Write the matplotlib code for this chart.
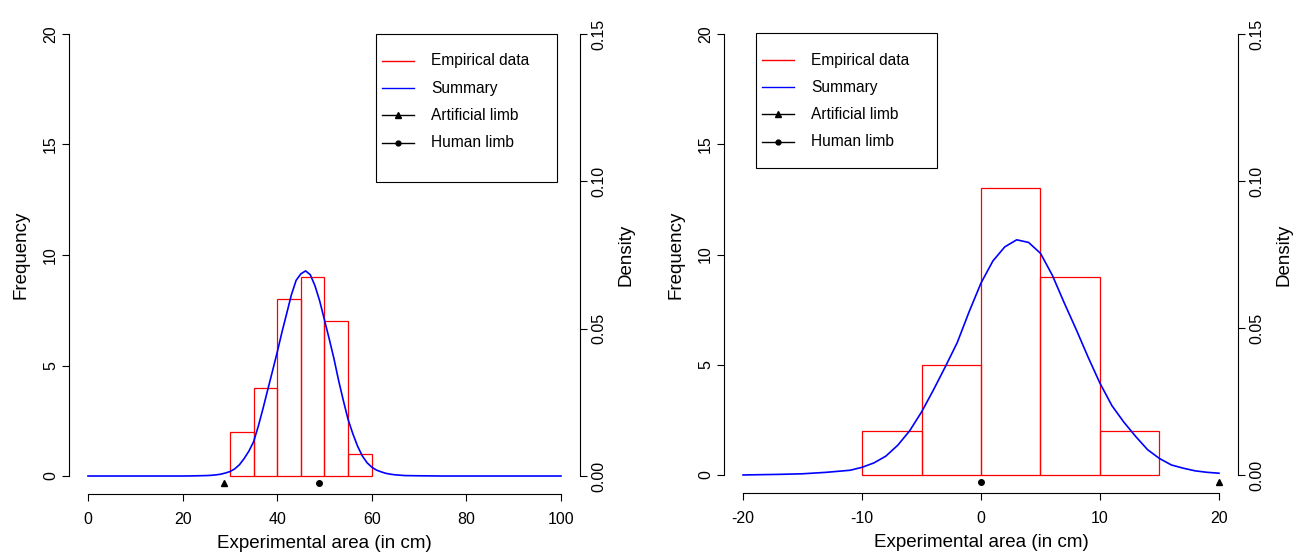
import numpy as np
import matplotlib
matplotlib.use("Agg")
import matplotlib.pyplot as plt
from matplotlib.lines import Line2D
from matplotlib.patches import Rectangle

plt.rcParams['font.family'] = ['Liberation Sans', 'DejaVu Sans']
plt.rcParams['axes.unicode_minus'] = False

# ---- left panel data ----
left_edges = [30, 35, 40, 45, 50, 55, 60]
left_counts = [2, 4, 8, 9, 7, 1]
left_curve_x = [0, 20, 22, 25, 26, 27, 28, 29, 30, 31, 32, 33, 34, 35, 36, 37, 38, 39,
                40, 41, 42, 43, 44, 45, 46, 47, 48, 49, 50, 51, 52, 53, 54, 55, 56, 57,
                58, 59, 60, 61, 62, 63, 64, 65, 67, 70, 75, 100]
left_curve_d = [0, 0, 0.00004, 0.00015, 0.00023, 0.00038, 0.0006, 0.001, 0.0015,
                0.0024, 0.0038, 0.0059, 0.0084, 0.0116, 0.0169, 0.0229, 0.0293, 0.0356,
                0.042, 0.0488, 0.0551, 0.0615, 0.0664, 0.0686, 0.0696, 0.0683, 0.0645,
                0.0593, 0.0529, 0.0465, 0.0398, 0.0323, 0.0255, 0.0191, 0.0143, 0.0101,
                0.0068, 0.0045, 0.003, 0.002, 0.0014, 0.0009, 0.0006, 0.0004, 0.00015,
                0.00008, 0, 0]
left_artificial = 28.8
left_human = 48.8

# ---- right panel data ----
right_edges = [-10, -5, 0, 5, 10, 15]
right_counts = [2, 5, 13, 9, 2]
right_curve_x = [-20, -17, -15, -13, -11, -10, -9, -8, -7, -6, -5, -4, -3, -2, -1, 0,
                 1, 2, 3, 4, 5, 6, 7, 8, 9, 10, 11, 12, 13, 14, 15, 16, 17, 18, 19, 20]
right_curve_d = [0, 0.0002, 0.0004, 0.0009, 0.0016, 0.0026, 0.0041, 0.0064, 0.0101,
                 0.015, 0.0214, 0.0289, 0.0368, 0.045, 0.0555, 0.0653, 0.0728, 0.0776,
                 0.08, 0.0791, 0.0754, 0.0679, 0.0585, 0.0495, 0.0401, 0.0312, 0.0236,
                 0.018, 0.0131, 0.0086, 0.0056, 0.0034, 0.0023, 0.0014, 0.0009, 0.0006]
right_artificial = 20
right_human = 0

marker_y = -0.3   # frequency units, just under the baseline
freq_lim = (0, 20)
dens_lim = (0, 0.15)
legend_labels = ["Empirical data", "Summary", "Artificial limb", "Human limb"]

W, H = 1304, 555
fig = plt.figure(figsize=(W / 100, H / 100), dpi=100)


def px_box(x0, x1, y0, y1):
    return [x0 / W, 1 - y1 / H, (x1 - x0) / W, (y1 - y0) / H]


def pad(lim, f=0.04):
    d = (lim[1] - lim[0]) * f
    return (lim[0] - d, lim[1] + d)


def panel(box, xlim, xticks, edges, counts, cx, cd, art, hum, legbox):
    ax = fig.add_axes(box)
    ax.bar(edges[:-1], counts, width=np.diff(edges), align='edge',
           facecolor='none', edgecolor='#ff0000', linewidth=0.9)
    ax.plot(art, marker_y, marker='^', color='black', markersize=4.5, clip_on=False)
    ax.plot(hum, marker_y, marker='o', color='black', markersize=4, clip_on=False)
    ax.set_xlim(pad(xlim))
    ax.set_ylim(pad(freq_lim))
    for s in ['top', 'right']:
        ax.spines[s].set_visible(False)
    ax.spines['left'].set_bounds(*freq_lim)
    ax.spines['bottom'].set_bounds(*xlim)
    ax.set_xticks(xticks)
    ax.set_yticks([0, 5, 10, 15, 20])
    ax.tick_params(axis='both', length=5, width=0.8, labelsize=11.5)
    ax.tick_params(axis='x', pad=8)
    ax.tick_params(axis='y', pad=3)
    for lab in ax.get_yticklabels():
        lab.set_rotation(90)
        lab.set_va('center')
    ax.set_xlabel("Experimental area (in cm)", fontsize=13.5, labelpad=6)
    ax.set_ylabel("Frequency", fontsize=13.5, labelpad=10)

    ax2 = ax.twinx()
    ax2.plot(cx, cd, color='#0000ff', linewidth=1.2)
    ax2.set_ylim(pad(dens_lim))
    for s in ['top', 'left', 'bottom']:
        ax2.spines[s].set_visible(False)
    ax2.spines['right'].set_bounds(*dens_lim)
    ax2.set_yticks([0, 0.05, 0.10, 0.15])
    ax2.set_yticklabels(["0.00", "0.05", "0.10", "0.15"])
    ax2.tick_params(axis='y', length=5, width=0.8, labelsize=11.5, pad=3)
    for lab in ax2.get_yticklabels():
        lab.set_rotation(90)
        lab.set_va('center')
    ax2.set_ylabel("Density", fontsize=13.5, labelpad=8)

    # legend box, laid out like R's legend()
    x0, x1, y0, y1 = legbox
    fig.patches.append(Rectangle((x0 / W, 1 - y1 / H), (x1 - x0) / W, (y1 - y0) / H,
                                 transform=fig.transFigure, facecolor='white',
                                 edgecolor='black', linewidth=0.8))
    colors = ['#ff0000', '#0000ff', 'black', 'black']
    markers = [None, None, '^', 'o']
    msizes = [0, 0, 4.5, 3.5]
    for i, lab in enumerate(legend_labels):
        yy = 1 - (y0 + 27 + 27.2 * i) / H
        fig.lines.append(Line2D([(x0 + 6) / W, (x0 + 38) / W], [yy, yy],
                                transform=fig.transFigure, linewidth=1.0,
                                color=colors[i]))
        if markers[i]:
            fig.lines.append(Line2D([(x0 + 22) / W], [yy], transform=fig.transFigure,
                                    linestyle='none', marker=markers[i],
                                    markersize=msizes[i], color=colors[i]))
        fig.text((x0 + 55) / W, yy, lab, fontsize=11.2, va='center', ha='left')
    return ax


panel(px_box(69.1, 579.9, 16.3, 493.7), (0, 100), [0, 20, 40, 60, 80, 100],
      left_edges, left_counts, left_curve_x, left_curve_d,
      left_artificial, left_human, (376, 557, 34, 182))
panel(px_box(724, 1238, 16.4, 492.6), (-20, 20), [-20, -10, 0, 10, 20],
      right_edges, right_counts, right_curve_x, right_curve_d,
      right_artificial, right_human, (756, 937, 33, 168))

fig.savefig("out.png", dpi=100)
